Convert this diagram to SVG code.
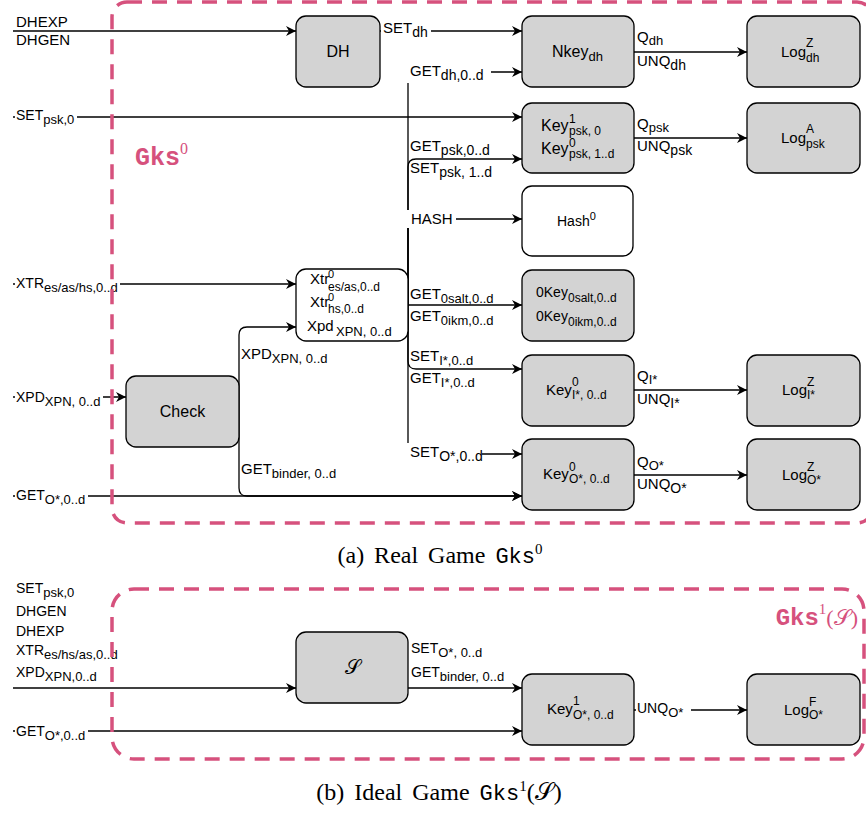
<svg xmlns="http://www.w3.org/2000/svg" width="866" height="815" viewBox="0 0 866 815">
<defs>
<style>
.box{fill:#d3d3d3;stroke:#000;stroke-width:1.3}
.wbox{fill:#fff;stroke:#000;stroke-width:1.3}
.ln{fill:none;stroke:#000;stroke-width:1.3;marker-end:url(#arr)}
.bg{fill:#fff;stroke:none}
.t{font-family:"Liberation Sans",Arial,sans-serif;fill:#000}
.e{font-size:15px}
.i{font-size:14px}
.s{font-size:13px}
.s2{font-size:14px}
.ns{font-size:12px}
.dash{fill:none;stroke:#D6517D;stroke-width:3.5;stroke-dasharray:15 10}
.pk{fill:#D6517D}
</style>
<marker id="arr" markerWidth="12" markerHeight="12" viewBox="-11 -6 12 12" refX="0" refY="0" orient="auto" markerUnits="userSpaceOnUse"><path d="M0,0 L-10,-5 L-7,0 L-10,5 z" fill="#000"/></marker>
</defs>

<g id="connectors">
<path class="ln" d="M13,31 H296"/>
<path class="ln" d="M380,31 H522"/>
<path class="ln" d="M13,117 H522"/>
<path class="ln" d="M408,305 V80 Q408,72 416,72 H522"/>
<path class="ln" d="M408,305 V167 Q408,159 416,159 H522"/>
<path class="ln" d="M408,305 V227 Q408,219 416,219 H522"/>
<path class="ln" d="M408,305 H522"/>
<path class="ln" d="M408,305 V361 Q408,369 416,369 H522"/>
<path class="ln" d="M408,305 V446 Q408,454 416,454 H522"/>
<path class="ln" d="M13,284 H296"/>
<path class="ln" d="M13,397 H126"/>
<path class="ln" d="M239,411 V335 Q239,327 247,327 H296"/>
<path class="ln" d="M239,411 V488 Q239,496 247,496 H522"/>
<path class="ln" d="M13,496 H522"/>
<path class="ln" d="M634,52 H747"/>
<path class="ln" d="M634,138 H747"/>
<path class="ln" d="M634,390 H747"/>
<path class="ln" d="M634,475 H747"/>
<path class="ln" d="M13,688 H296"/>
<path class="ln" d="M408,688 H522"/>
<path class="ln" d="M13,731 H522"/>
<path class="ln" d="M634,710 H747"/>

<g id="label-bg">
<rect class="bg" x="15" y="106" width="62" height="21"/>
<rect class="bg" x="381" y="20" width="50" height="19"/>
<rect class="bg" x="407" y="61" width="84" height="22"/>
<rect class="bg" x="407" y="210" width="49" height="18"/>
<rect class="bg" x="407" y="443" width="75" height="21"/>
<rect class="bg" x="15" y="275" width="105" height="21"/>
<rect class="bg" x="15" y="388" width="88" height="19"/>
<rect class="bg" x="15" y="486" width="73" height="20"/>
<rect class="bg" x="15" y="722" width="73" height="20"/>
<rect class="bg" x="636" y="700" width="55" height="20"/>
</g>

<g class="t">
<text class="e" x="16" y="27">DHEXP</text>
<text class="e" x="16" y="45">DHGEN</text>
<text class="i" x="16" y="120">SET<tspan class="s" dy="4">psk,0</tspan></text>
<text class="e" x="383" y="33">SET<tspan class="s2" dy="4">dh</tspan></text>
<text class="e" x="410" y="76">GET<tspan class="s2" dy="4">dh,0..d</tspan></text>
<text class="e" x="410" y="151">GET<tspan class="s2" dy="4">psk,0..d</tspan></text>
<text class="e" x="410" y="173">SET<tspan class="s2" dy="4">psk, 1..d</tspan></text>
<text class="e" x="411" y="224">HASH</text>
<text class="e" x="410" y="299">GET<tspan class="s" dy="4">0salt,0..d</tspan></text>
<text class="e" x="410" y="321">GET<tspan class="s" dy="4">0ikm,0..d</tspan></text>
<text class="e" x="410" y="361">SET<tspan class="s" dy="4">I*,0..d</tspan></text>
<text class="e" x="410" y="383">GET<tspan class="s" dy="4">I*,0..d</tspan></text>
<text class="e" x="410" y="457">SET<tspan class="s2" dy="4">O*,0..d</tspan></text>
<text class="i" x="16" y="288">XTR<tspan class="s" dy="4">es/as/hs,0..d</tspan></text>
<text class="i" x="16" y="402">XPD<tspan class="s" dy="4">XPN, 0..d</tspan></text>
<text class="i" x="16" y="500">GET<tspan class="s" dy="4">O*,0..d</tspan></text>
<text class="e" x="241" y="359">XPD<tspan class="s" dy="4">XPN, 0..d</tspan></text>
<text class="e" x="241" y="474">GET<tspan class="s" dy="4">binder, 0..d</tspan></text>
<text class="e" x="637" y="42">Q<tspan class="s" dy="3">dh</tspan></text>
<text class="e" x="637" y="66">UNQ<tspan class="s2" dy="4">dh</tspan></text>
<text class="e" x="637" y="129">Q<tspan class="s" dy="3">psk</tspan></text>
<text class="e" x="637" y="151">UNQ<tspan class="s2" dy="4">psk</tspan></text>
<text class="e" x="637" y="381">Q<tspan class="s" dy="3">I*</tspan></text>
<text class="e" x="637" y="404">UNQ<tspan class="s2" dy="4">I*</tspan></text>
<text class="e" x="637" y="467">Q<tspan class="s" dy="3">O*</tspan></text>
<text class="e" x="637" y="489">UNQ<tspan class="s2" dy="4">O*</tspan></text>
<text class="i" x="16" y="593">SET<tspan class="s" dy="4">psk,0</tspan></text>
<text class="i" x="16" y="616">DHGEN</text>
<text class="i" x="16" y="636">DHEXP</text>
<text class="i" x="16" y="655">XTR<tspan class="s" dy="4">es/hs/as,0..d</tspan></text>
<text class="i" x="16" y="677">XPD<tspan class="s" dy="4">XPN,0..d</tspan></text>
<text class="i" x="16" y="736">GET<tspan class="s" dy="4">O*,0..d</tspan></text>
<text class="i" x="411" y="653">SET<tspan class="s" dy="4">O*, 0..d</tspan></text>
<text class="i" x="411" y="677">GET<tspan class="s" dy="4">binder, 0..d</tspan></text>
<text class="i" x="637" y="713">UNQ<tspan class="s" dy="4">O*</tspan></text>
</g>
</g>

<g id="DH"><rect class="box" x="296" y="16" width="84" height="71" rx="10"/><text class="t" x="338" y="57" font-size="16" text-anchor="middle">DH</text></g>
<g id="Nkey"><rect class="box" x="522" y="16" width="112" height="71" rx="10"/><text class="t" x="552" y="57" font-size="16">Nkey<tspan class="s" dy="4">dh</tspan></text></g>
<g id="LogZdh"><rect class="box" x="747" y="16" width="113" height="71" rx="10"/><text class="t" font-size="15"><tspan x="781" y="57">Log</tspan><tspan class="ns" x="806" y="47">Z</tspan><tspan class="ns" x="806" y="62">dh</tspan></text></g>
<g id="Keypsk"><rect class="box" x="522" y="103" width="112" height="70" rx="10"/><text class="t" font-size="16"><tspan x="541" y="131">Key</tspan><tspan class="ns" x="569" y="123">1</tspan><tspan class="ns" x="569" y="135">psk, 0</tspan><tspan x="541" y="154">Key</tspan><tspan class="ns" x="569" y="147">0</tspan><tspan class="ns" x="569" y="158">psk, 1..d</tspan></text></g>
<g id="LogApsk"><rect class="box" x="747" y="103" width="113" height="70" rx="10"/><text class="t" font-size="15"><tspan x="781" y="143">Log</tspan><tspan class="ns" x="806" y="133">A</tspan><tspan class="ns" x="806" y="148">psk</tspan></text></g>
<g id="Hash"><rect class="wbox" x="522" y="186" width="111" height="70" rx="10"/><text class="t" x="557" y="226" font-size="14">Hash<tspan font-size="11" dy="-6">0</tspan></text></g>
<g id="Xtr"><rect class="wbox" x="296" y="269" width="112" height="72" rx="10"/><text class="t" font-size="15"><tspan x="310" y="284">Xtr</tspan><tspan font-size="11" x="328" y="278">0</tspan><tspan font-size="12" x="328" y="291">es/as,0..d</tspan><tspan x="310" y="307">Xtr</tspan><tspan font-size="11" x="328" y="301">0</tspan><tspan font-size="12" x="328" y="313">hs,0..d</tspan><tspan x="307" y="331">Xpd</tspan><tspan class="s" x="336" y="336">XPN, 0..d</tspan></text></g>
<g id="ZeroKey"><rect class="box" x="522" y="270" width="112" height="71" rx="10"/><text class="t" font-size="14"><tspan x="536" y="297">0Key</tspan><tspan class="ns" x="568" y="302">0salt,0..d</tspan><tspan x="536" y="321">0Key</tspan><tspan class="ns" x="568" y="326">0ikm,0..d</tspan></text></g>
<g id="Check"><rect class="box" x="126" y="376" width="113" height="71" rx="10"/><text class="t" x="182.5" y="417" font-size="16" text-anchor="middle">Check</text></g>
<g id="KeyI"><rect class="box" x="522" y="355" width="112" height="71" rx="10"/><text class="t" font-size="15"><tspan x="546" y="395">Key</tspan><tspan class="ns" x="572" y="386">0</tspan><tspan class="ns" x="572" y="399">I*, 0..d</tspan></text></g>
<g id="KeyO"><rect class="box" x="522" y="439" width="112" height="71" rx="10"/><text class="t" font-size="15"><tspan x="543" y="479">Key</tspan><tspan class="ns" x="569" y="471">0</tspan><tspan class="ns" x="569" y="483">O*, 0..d</tspan></text></g>
<g id="LogZI"><rect class="box" x="747" y="355" width="113" height="71" rx="10"/><text class="t" font-size="15"><tspan x="782" y="395">Log</tspan><tspan class="ns" x="807" y="386">Z</tspan><tspan class="ns" x="807" y="399">I*</tspan></text></g>
<g id="LogZO"><rect class="box" x="747" y="439" width="113" height="71" rx="10"/><text class="t" font-size="15"><tspan x="782" y="480">Log</tspan><tspan class="ns" x="807" y="471">Z</tspan><tspan class="ns" x="807" y="484">O*</tspan></text></g>

<g id="S"><rect class="box" x="296" y="632" width="112" height="71" rx="10"/><text x="352" y="674" font-size="20" text-anchor="middle" font-family="'DejaVu Serif','Liberation Serif',serif">𝒮</text></g>
<g id="Key1O"><rect class="box" x="522" y="674" width="112" height="71" rx="10"/><text class="t" font-size="15"><tspan x="547" y="714">Key</tspan><tspan class="ns" x="573" y="705">1</tspan><tspan class="ns" x="573" y="719">O*, 0..d</tspan></text></g>
<g id="LogFO"><rect class="box" x="747" y="674" width="113" height="71" rx="10"/><text class="t" font-size="15"><tspan x="784" y="715">Log</tspan><tspan class="ns" x="809" y="706">F</tspan><tspan class="ns" x="809" y="719">O*</tspan></text></g>

<g id="game0">
<rect class="dash" x="112" y="2" width="760" height="521" rx="15"/>
<text class="pk" x="135" y="165"><tspan font-family="'Liberation Mono',monospace" font-weight="bold" font-size="25">Gks</tspan><tspan font-family="'Liberation Serif',serif" font-size="16" dy="-11">0</tspan></text>
</g>
<g id="game1">
<rect class="dash" x="112" y="589" width="752" height="170" rx="22"/>
<text class="pk" x="858" y="625" text-anchor="end"><tspan font-family="'Liberation Mono',monospace" font-weight="bold" font-size="24">Gks</tspan><tspan font-family="'Liberation Serif',serif" font-size="15" dy="-11">1</tspan><tspan font-family="'Liberation Serif',serif" font-size="22" dy="11">(</tspan><tspan font-family="'DejaVu Serif','Liberation Serif',serif" font-size="22">𝒮</tspan><tspan font-family="'Liberation Serif',serif" font-size="22">)</tspan></text>
</g>

<g id="captions" font-family="'Liberation Serif',serif" fill="#000">
<text x="440" y="563" font-size="24" word-spacing="4" text-anchor="middle">(a) Real Game <tspan font-family="'Liberation Mono',monospace" font-size="22">Gks</tspan><tspan font-size="15" dy="-9">0</tspan></text>
<text x="439" y="800" font-size="24" word-spacing="4" text-anchor="middle">(b) Ideal Game <tspan font-family="'Liberation Mono',monospace" font-size="22">Gks</tspan><tspan font-size="15" dy="-9">1</tspan><tspan dy="9">(</tspan><tspan font-family="'DejaVu Serif','Liberation Serif',serif">𝒮</tspan>)</text>
</g>
</svg>
